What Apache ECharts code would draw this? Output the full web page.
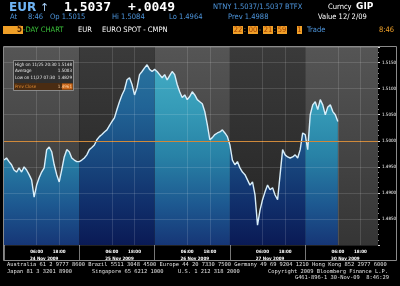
<!DOCTYPE html>
<html><head><meta charset="utf-8">
<script src="https://cdn.jsdelivr.net/npm/echarts@6/dist/echarts.min.js"></script>
<style>html,body{margin:0;padding:0;background:#000;}#c{width:400px;height:286px;}</style>
</head><body><div id="c"></div>
<script>
// ---- data ----
const days = ['24 Nov 2009','25 Nov 2009','26 Nov 2009','27 Nov 2009','30 Nov 2009'];
const slotsPerDay = 30;
const hourTickSlots = [13, 22];
const hourTickLabels = ['06:00', '18:00'];
const dayLabelSlot = 16;
const prices = [
  // 24 Nov
  1.4963,1.4967,1.4960,1.4954,1.4944,1.4940,1.4948,1.4940,1.4950,1.4944,
  1.4935,1.4925,1.4892,1.4915,1.4929,1.4940,1.4948,1.4983,1.4988,1.4979,
  1.4954,1.4935,1.4921,1.4944,1.4969,1.4983,1.4979,1.4967,1.4963,1.4960,
  // 25 Nov
  1.4960,1.4963,1.4967,1.4973,1.4983,1.4987,1.4992,1.5002,1.5008,1.5012,
  1.5017,1.5021,1.5029,1.5037,1.5044,1.5060,1.5075,1.5088,1.5098,1.5117,
  1.5121,1.5108,1.5088,1.5102,1.5127,1.5133,1.5140,1.5146,1.5137,1.5133,
  // 26 Nov
  1.5137,1.5133,1.5127,1.5121,1.5127,1.5117,1.5125,1.5133,1.5127,1.5108,
  1.5094,1.5083,1.5088,1.5079,1.5085,1.5094,1.5088,1.5079,1.5075,1.5071,
  1.5056,1.5031,1.5002,1.5006,1.5012,1.5015,1.5017,1.5021,1.5015,1.5008,
  // 27 Nov
  1.4992,1.4963,1.4954,1.4960,1.4948,1.4940,1.4935,1.4925,1.4915,1.4921,
  1.4896,1.4838,1.4867,1.4887,1.4902,1.4915,1.4906,1.4910,1.4896,1.4887,
  1.4935,1.4983,1.4973,1.4969,1.4967,1.4969,1.4973,1.4967,1.4983,1.5015,
  // 30 Nov
  1.5012,1.4983,1.5050,1.5069,1.5075,1.5060,1.5079,1.5069,1.5050,1.5065,
  1.5069,1.5056,1.5050,1.5037
];
const prevClose = 1.4961;
const lastPrice = 1.5037;
const yMin = 1.48, yMax = 1.518, yStep = 0.005;
const statRows = [
  ['High on 11/25 20:30', '1.5148'],
  ['Average', '1.5003'],
  ['Low on 11/27 07:30', '1.4829']
];
const prevCloseRow = ['Prev Close', '1.4961'];
const footerLine1 = 'Australia 61 2 9777 8600 Brazil 5511 3048 4500 Europe 44 20 7330 7500 Germany 49 69 9204 1210 Hong Kong 852 2977 6000';
const footerLine2 = ['Japan 81 3 3201 8900', 'Singapore 65 6212 1000', 'U.S. 1 212 318 2000', 'Copyright 2009 Bloomberg Finance L.P.'];
const footerLine3 = 'G461-896-1 30-Nov-09  8:46:29';

// ---- build ----
const cats = [];
days.forEach(d => { for (let s = 0; s < slotsPerDay; s++) cats.push(d + ' ' + s); });
function inDay(i, parity) {
  const d = Math.floor(i / slotsPerDay);
  return d % 2 === parity || (i % slotsPerDay === 0 && i > 0 && (d - 1) % 2 === parity);
}
const lightData = prices.map((v, i) => inDay(i, 0) ? v : null);
const darkData = prices.map((v, i) => inDay(i, 1) ? v : null);

function grad(stops) {
  return { type: 'linear', x: 0, y: 47, x2: 0, y2: 245, global: true,
    colorStops: stops.map(s => ({ offset: s[0], color: s[1] })) };
}
const lightFill = grad([[0,'#48b0c8'],[0.3,'#369cb8'],[0.55,'#2882a6'],[0.8,'#1d5890'],[1,'#163676']]);
const darkFill = grad([[0,'#2c78a0'],[0.3,'#216496'],[0.55,'#194a80'],[0.8,'#102e6a'],[1,'#0a1a55']]);
const lightBg = grad([[0,'#555555'],[1,'#353535']]);
const darkBg = grad([[0,'#3a3a3a'],[1,'#242424']]);

const bands = days.map((d, k) => {
  const a = cats[k * slotsPerDay];
  const b = cats[Math.min(k * slotsPerDay + slotsPerDay, cats.length - 1)];
  return [{ xAxis: a, itemStyle: { color: k % 2 === 0 ? lightBg : darkBg } }, { xAxis: b }];
});

const F = '"DejaVu Sans"';
const NAR = '"Liberation Sans Narrow","DejaVu Sans Condensed","DejaVu Sans"';
const MONO = '"DejaVu Sans Mono"';
const BLUE = '#4d95dc';
const ORANGE = '#f0a028';
function t(text, x, y, fill, font, align) {
  return { type: 'text', silent: true, style: { text, x, y, fill, font, align: align || 'left', verticalAlign: 'middle' } };
}
function box(x, y, w, h, fill) {
  return { type: 'rect', silent: true, shape: { x, y, width: w, height: h }, style: { fill } };
}

const graphics = [
  // row 1
  t('EUR', 9, 8, '#6fb4f4', 'bold 12px ' + F),
  t('\u2191', 40, 8, '#a8d0f8', '11px ' + F),
  t('1.5037', 64, 8, '#ffffff', 'bold 13px ' + MONO),
  t('+.0049', 128, 8, '#ffffff', 'bold 13px ' + MONO),
  t('NTNY 1.5037/1.5037 BTFX', 213, 7, BLUE, '7.5px ' + NAR),
  t('Curncy', 328, 7, '#ffffff', '7.5px ' + NAR),
  t('GIP', 356, 7, '#ffffff', 'bold 9px ' + F),
  // row 2
  t('At', 10, 17, BLUE, '7.5px ' + NAR),
  t('8:46', 28, 17, BLUE, '7.5px ' + NAR),
  t('Op 1.5015', 50, 17, BLUE, '7.5px ' + NAR),
  t('Hi 1.5084', 112, 17, BLUE, '7.5px ' + NAR),
  t('Lo 1.4964', 169, 17, BLUE, '7.5px ' + NAR),
  t('Prev 1.4988', 228, 17, BLUE, '7.5px ' + NAR),
  t('Value 12/ 2/09', 318, 17, '#ffffff', '7.5px ' + NAR),
  // row 3
  box(3, 26, 20, 8, ORANGE),
  t('5', 17, 30, '#4a2000', 'bold 8px ' + NAR),
  t('-DAY CHART', 23, 30, '#3ac03a', '7.5px ' + NAR),
  t('EUR', 78, 30, '#ffffff', '7.5px ' + NAR),
  t('EURO SPOT - CMPN', 102, 30, '#ffffff', '7.5px ' + NAR),
  box(233, 26, 10, 8, ORANGE), t('22', 238, 30, '#a03c00', '7.5px ' + NAR, 'center'),
  t(':', 245, 30, ORANGE, '7.5px ' + NAR, 'center'),
  box(248, 26, 10, 8, ORANGE), t('00', 253, 30, '#a03c00', '7.5px ' + NAR, 'center'),
  t('-', 260, 30, ORANGE, '7.5px ' + NAR, 'center'),
  box(263, 26, 10, 8, ORANGE), t('21', 268, 30, '#a03c00', '7.5px ' + NAR, 'center'),
  t(':', 275, 30, ORANGE, '7.5px ' + NAR, 'center'),
  box(277, 26, 10, 8, ORANGE), t('59', 282, 30, '#a03c00', '7.5px ' + NAR, 'center'),
  box(297, 26, 5, 8, ORANGE), t('1', 299.5, 30, '#a03c00', '7.5px ' + NAR, 'center'),
  t('Trade', 307, 30, BLUE, '7.5px ' + NAR),
  t('8:46', 379, 30, ORANGE, '7.5px ' + NAR),
  // frame
  { type: 'rect', silent: true, z: 20, shape: { x: 3.5, y: 46.5, width: 393, height: 214 },
    style: { fill: 'none', stroke: '#8a8a8a', lineWidth: 1 } },
  // stats box
  { type: 'rect', silent: true, z: 20, shape: { x: 13.5, y: 60.5, width: 60, height: 30 },
    style: { fill: 'rgba(40,40,40,0.85)', stroke: '#aaaaaa', lineWidth: 0.7 } },
  box(14, 83, 59, 7, '#4a2c12'),
  box(62, 83.5, 10.5, 6, '#c8661a'),
];
statRows.forEach((r, k) => {
  graphics.push(t(r[0], 15, 65 + k * 6.3, '#e8e8e8', '4.5px ' + NAR));
  graphics.push(t(r[1], 72, 65 + k * 6.3, '#e8e8e8', '4.5px ' + NAR, 'right'));
});
graphics.push(t(prevCloseRow[0], 15, 86.5, '#e08a30', '4.5px ' + NAR));
graphics.push(t(prevCloseRow[1], 72, 86.5, '#ffd0a0', '4.5px ' + NAR, 'right'));
graphics.forEach(g => { if (g.z == null) g.z = 20; });
// footer
const footerX2 = [7, 92, 178, 268];
graphics.push(t(footerLine1, 7, 265, '#e0e0e0', '5.4px ' + MONO));
footerLine2.forEach((s, k) => graphics.push(t(s, footerX2[k], 271.5, '#e0e0e0', '5.4px ' + MONO)));
graphics.push(t(footerLine3, 389, 278, '#e0e0e0', '5.4px ' + MONO, 'right'));

const chart = echarts.init(document.getElementById('c'), null, { renderer: 'canvas' });
chart.setOption({
  backgroundColor: '#000',
  animation: false,
  grid: { left: 4, right: 22, top: 47, bottom: 41, containLabel: false },
  xAxis: [{
    type: 'category', data: cats, boundaryGap: false, z: 6,
    axisLine: { show: false }, axisTick: { show: false },
    axisLabel: {
      interval: (i) => hourTickSlots.indexOf(i % slotsPerDay) >= 0,
      formatter: (v, i) => hourTickLabels[hourTickSlots.indexOf(i % slotsPerDay)] || '',
      color: '#ffffff', fontSize: 4.5, fontFamily: NAR, fontWeight: 'bold', margin: 4
    },
    splitLine: { show: true, interval: (i) => hourTickSlots.indexOf(i % slotsPerDay) >= 0,
      lineStyle: { color: 'rgba(255,255,255,0.13)', width: 1 } }
  }, {
    type: 'category', data: cats, boundaryGap: false, position: 'bottom',
    axisLine: { show: false },
    axisTick: { show: true, interval: (i) => i % slotsPerDay === 0, length: 16, lineStyle: { color: '#777' } },
    axisLabel: {
      interval: (i) => i % slotsPerDay === dayLabelSlot,
      formatter: (v, i) => days[Math.floor(i / slotsPerDay)],
      color: '#ffffff', fontSize: 4.5, fontFamily: NAR, fontWeight: 'bold', margin: 11
    },
    splitLine: { show: false }
  }],
  yAxis: {
    type: 'value', position: 'right', min: yMin, max: yMax, interval: yStep, z: 6,
    axisLine: { show: false },
    axisTick: { show: true, length: 2, lineStyle: { color: '#dddddd' } },
    minorTick: { show: true, splitNumber: 5, length: 1, lineStyle: { color: '#999' } },
    axisLabel: { color: '#ffffff', fontSize: 4.5, fontFamily: NAR, margin: 4,
      formatter: (v) => (v < yMin + 0.0001 || v > yMax - 0.0001) ? '' : v.toFixed(4) },
    splitLine: { show: true, lineStyle: { color: 'rgba(255,255,255,0.13)' } }
  },
  graphic: graphics,
  series: [{
    type: 'line', name: 'light', data: lightData, symbol: 'none', z: 2, silent: true,
    lineStyle: { width: 0 }, areaStyle: { color: lightFill, opacity: 1 },
    markArea: { silent: true, data: bands }
  }, {
    type: 'line', name: 'dark', data: darkData, symbol: 'none', z: 2, silent: true,
    lineStyle: { width: 0 }, areaStyle: { color: darkFill, opacity: 1 }
  }, {
    type: 'line', name: 'EUR', data: prices, symbol: 'none', z: 4, silent: true,
    lineStyle: { width: 1.4, color: '#d8eefa' },
    markLine: {
      silent: true, symbol: 'none', animation: false,
      data: [
        { yAxis: prevClose, lineStyle: { color: '#c8781e', width: 1, type: 'solid' }, label: { show: false } },
        { yAxis: lastPrice, lineStyle: { opacity: 0 },
          label: { show: true, position: 'end', distance: 3, formatter: lastPrice.toFixed(4),
            backgroundColor: '#ffffff', color: '#000000', fontSize: 4.5, fontFamily: NAR,
            padding: [1, 2], borderRadius: 1 } }
      ]
    }
  }]
});
</script></body></html>
